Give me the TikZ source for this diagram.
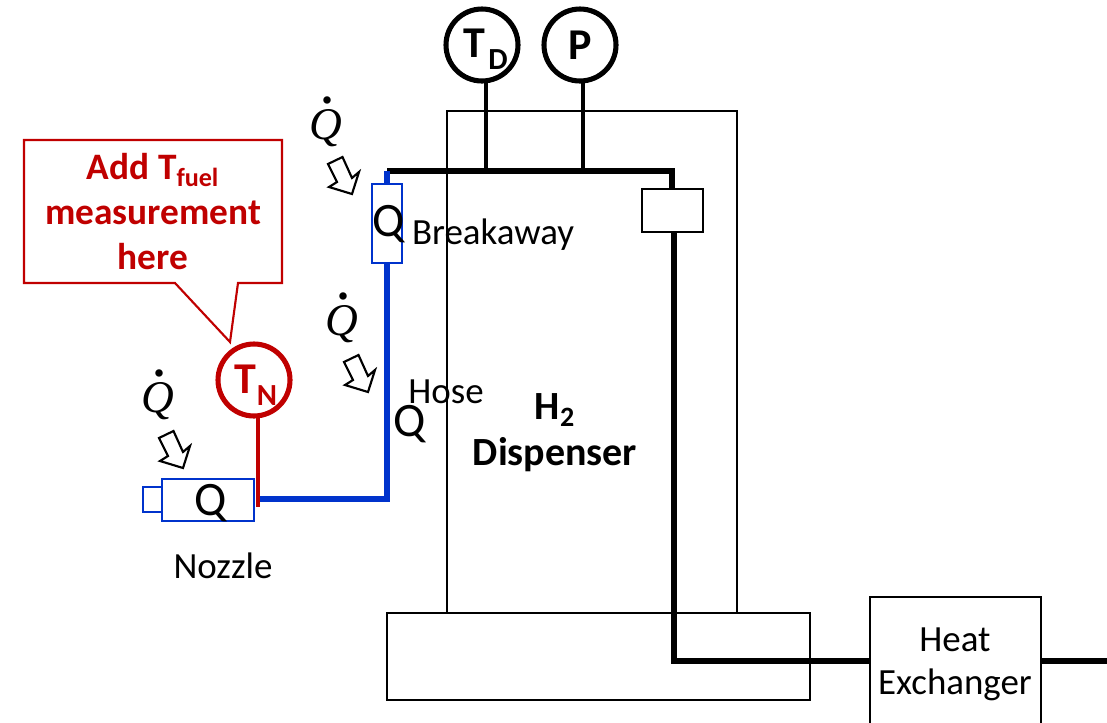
\documentclass[tikz,border=0pt]{standalone}
\usepackage{fontspec}
\setmainfont{Carlito}
\newfontfamily\qfont{Liberation Serif}
\definecolor{hblue}{RGB}{0,51,204}
\definecolor{hred}{RGB}{192,0,0}
\newcommand{\fs}[1]{\fontsize{#1}{#1}\selectfont}
\newcommand{\qdot}{\makebox[0pt][l]{\hspace{10.6pt}\raisebox{26.8pt}{\bfseries.}}Q}
\tikzset{
  boxthin/.style={draw=black,line width=1.6pt,inner sep=0pt,outer sep=0pt},
  boxblue/.style={draw=hblue,line width=1.9pt,inner sep=0pt,outer sep=0pt,fill=white},
  pipe/.style={line width=3.9pt,black},
  pipeblue/.style={line width=3.9pt,hblue},
  gauge/.style={circle,draw=black,line width=3.8pt,minimum size=54pt,inner sep=0pt,outer sep=0pt},
  gaugered/.style={gauge,draw=hred,text=hred},
  stem/.style={line width=3pt,black},
  stemred/.style={line width=3pt,hred},
  lbl/.style={inner sep=0pt,outer sep=0pt,font=\fs{27.7}},
  bigq/.style={inner sep=0pt,outer sep=0pt,font=\fs{36}},
  heatq/.style={inner sep=0pt,outer sep=0pt,anchor=base,font=\qfont\itshape\fs{34}},
  flowarrow/.style={draw=black,line width=1.6pt,fill=white,line join=miter},
}
\begin{document}
\begin{tikzpicture}[x=0.75pt,y=-0.75pt]
\useasboundingbox (0,0) rectangle (1107,722);
% dispenser housing and base
\node[boxthin,minimum width=217.5pt,minimum height=376.5pt] (housing) at (592,362) {};
\node[boxthin,minimum width=317.25pt,minimum height=65.25pt] (base) at (598.5,656.5) {};
% heat exchanger, running off the lower edge
\begin{scope}
\clip (0,0) rectangle (1107,722);
\node[boxthin,minimum width=128.25pt,minimum height=120pt] (hx) at (955.5,677) {};
\end{scope}
% valve box
\node[boxthin,minimum width=45.75pt,minimum height=32.25pt] (valve) at (672.5,210.5) {};
% gauges
\node[gauge] (td) at (482,45) {};
\node[gauge] (p) at (580,45) {};
\node[inner sep=0pt,font=\fs{33}\bfseries] (tdt) at (474,43) {T};
\node[inner sep=0pt,font=\fs{23}\bfseries] (tdd) at (498,60) {D};
\node[inner sep=0pt,font=\fs{33}\bfseries] (pt) at (580,45) {P};
% blue parts
\node[boxblue,minimum width=22.5pt,minimum height=59pt] (brk) at (387,223.5) {};
\node[boxblue,minimum width=69pt,minimum height=31.5pt] (noz) at (208,500) {};
\node[boxblue,minimum width=14pt,minimum height=18.75pt] (tip) at (152.5,499.5) {};
% temperature gauge
\node[gaugered,minimum size=54pt] (tn) at (254,380) {};
\node[inner sep=0pt,text=hred,font=\fs{33}\bfseries] (tnt) at (245,379) {T};
\node[inner sep=0pt,text=hred,font=\fs{23}\bfseries] (tnn) at (267,396) {N};
% junction points
\coordinate (j1) at (387,171);
\coordinate (j2) at (672,171);
\coordinate (j3) at (674,661);
\coordinate (j4) at (387,499);
\coordinate (j5) at (258,499);
\coordinate (j6) at (258,507);
\coordinate (j7) at (1107,661);
\coordinate (jtd) at (486,171);
\coordinate (jp) at (583,171);
\coordinate (jtn) at (258,418);
\coordinate (vt) at (672,189);
\coordinate (vb) at (674,232);
\coordinate (hxl) at (870,661);
\coordinate (hxr) at (1041,661);
\coordinate (tds) at (486,81);
\coordinate (ps) at (583,81);
% pipes
\draw[pipe] (j1) -- (j2) -- (vt);
\draw[pipe,line join=miter] (vb) -- (j3) -- (hxl);
\draw[pipe] (hxr) -- (j7);
\draw[stem] (tds) -- (jtd);
\draw[stem] (ps) -- (jp);
\draw[pipeblue] (387,171) -- (brk.north);
\draw[pipeblue,line join=miter] (brk.south) -- (j4) -- (j5);
\draw[stemred] (jtn) -- (j6);
% callout
\draw[hred,line width=1.6pt,fill=white,line join=miter] (24,140) -- (282,140) -- (282,283) -- (238,283) -- (230,342) -- (175,283) -- (24,283) -- cycle;
\node[inner sep=0pt,text=hred,font=\fs{28}\bfseries] (n1) at (153,170) {Add T\textsubscript{fuel}};
\node[inner sep=0pt,text=hred,font=\fs{28}\bfseries] (n2) at (153,213) {measurement};
\node[inner sep=0pt,text=hred,font=\fs{28}\bfseries] (n3) at (153,257) {here};
% labels
\node[bigq] (q1) at (389,224) {Q};
\node[bigq] (q2) at (410,424) {Q};
\node[bigq] (q3) at (211,503) {Q};
\node[lbl] (lb) at (493,235) {Breakaway};
\node[lbl] (lh) at (446,392) {Hose};
\node[lbl] (ln) at (223,566) {Nozzle};
\node[lbl,font=\fs{30}\bfseries] (ld1) at (555,410) {H\textsubscript{2}};
\node[lbl,font=\fs{30}\bfseries] (ld2) at (555,455) {Dispenser};
\node[lbl] (lx1) at (955,640) {Heat};
\node[lbl] (lx2) at (955,685) {Exchanger};
% heat input symbols
\node[heatq] (h1) at (325.5,139) {\qdot};
\node[heatq] (h2) at (342,335) {\qdot};
\node[heatq] (h3) at (157.5,412) {\qdot};
\foreach \dx/\dy in {0/0,16/198,-169/274}{
  \begin{scope}[shift={(\dx,\dy)}]
    \draw[flowarrow] (328,164) -- (342.5,157) -- (352,178) -- (359,172) -- (352,194) -- (329,187) -- (337,182) -- cycle;
  \end{scope}
}
\end{tikzpicture}
\end{document}
